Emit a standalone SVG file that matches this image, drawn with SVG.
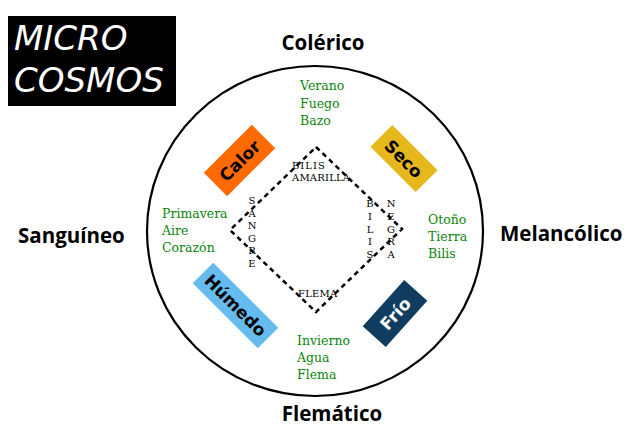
<svg xmlns="http://www.w3.org/2000/svg" width="640" height="442" viewBox="0 0 640 442">
<style>
.title{font-family:"DejaVu Sans",sans-serif;font-style:italic;font-size:34px;fill:#fff}
.hum{font-family:"Open Sans","DejaVu Sans",sans-serif;font-weight:bold;font-size:20.5px;fill:#000}
.grn{font-family:"DejaVu Serif",serif;font-size:12.5px;fill:#0d850d}
.q{font-family:"DejaVu Sans",sans-serif;font-weight:bold;font-size:17px}
.sm{font-family:"DejaVu Serif",serif;font-size:10px;fill:#000}
</style>
<rect width="640" height="442" fill="#fff"/>
<g id="title">
<rect x="8" y="16" width="168" height="90" fill="#000"/>
<text class="title" x="14" y="50">MICRO</text>
<text class="title" x="14" y="92">COSMOS</text>
</g>
<g id="circle">
<ellipse cx="315" cy="231" rx="168" ry="165" fill="none" stroke="#000" stroke-width="2.2"/>
</g>
<g id="connectors">
<polygon points="316,147 402,229 316,312 230,230" fill="none" stroke="#000" stroke-width="2.5" stroke-dasharray="5,4"/>
</g>
<g id="colerico"><text class="hum" x="323" y="50" text-anchor="middle">Colérico</text></g>
<g id="sanguineo"><text class="hum" x="18" y="243" font-size="21">Sanguíneo</text></g>
<g id="melancolico"><text class="hum" x="500" y="241" font-size="21">Melancólico</text></g>
<g id="flematico"><text class="hum" x="332" y="421" text-anchor="middle">Flemático</text></g>
<g id="verano"><text class="grn" x="300" y="90">Verano</text><text class="grn" x="300" y="107.5">Fuego</text><text class="grn" x="300" y="125">Bazo</text></g>
<g id="primavera"><text class="grn" x="162" y="218" font-size="13.3">Primavera</text><text class="grn" x="162" y="235" font-size="13.3">Aire</text><text class="grn" x="162" y="252" font-size="13.3">Corazón</text></g>
<g id="otono"><text class="grn" x="428" y="224">Otoño</text><text class="grn" x="428" y="241">Tierra</text><text class="grn" x="428" y="258">Bilis</text></g>
<g id="invierno"><text class="grn" x="297" y="345">Invierno</text><text class="grn" x="297" y="362">Agua</text><text class="grn" x="297" y="379">Flema</text></g>
<g id="calor" transform="translate(239.5,160.5) rotate(-45)">
<rect x="-34" y="-16.5" width="68" height="33" fill="#ff6a00"/>
<text class="q" x="0" y="6.5" text-anchor="middle" fill="#000">Calor</text>
</g>
<g id="seco" transform="translate(404,158.5) rotate(45)">
<rect x="-32" y="-15.5" width="64" height="31" fill="#e6b81c"/>
<text class="q" x="0" y="6.5" text-anchor="middle" fill="#000">Seco</text>
</g>
<g id="humedo" transform="translate(235.5,305.5) rotate(45)">
<rect x="-46" y="-14.5" width="92" height="29" fill="#66bbee"/>
<text class="q" x="0" y="6" text-anchor="middle" fill="#000">Húmedo</text>
</g>
<g id="frio" transform="translate(395,313.5) rotate(-48)">
<rect x="-31" y="-15.5" width="62" height="31" fill="#0f3c5f"/>
<text class="q" x="0" y="6.5" text-anchor="middle" fill="#fff">Frío</text>
</g>
<g id="bilis-amarilla">
<text class="sm" x="292" y="169" letter-spacing="1">BILIS</text>
<text class="sm" x="292" y="181" letter-spacing="0.2">AMARILLA</text>
</g>
<g id="sangre" class="sm" text-anchor="middle">
<text x="252" y="204">S</text><text x="252" y="216.5">A</text><text x="252" y="229">N</text><text x="252" y="241.5">G</text><text x="252" y="254">R</text><text x="252" y="266.5">E</text>
</g>
<g id="bilis-negra" class="sm" text-anchor="middle">
<text x="370" y="207">B</text><text x="370" y="220">I</text><text x="370" y="232.5">L</text><text x="370" y="245">I</text><text x="370" y="257.5">S</text>
<text x="391" y="207">N</text><text x="391" y="220">E</text><text x="391" y="232.5">G</text><text x="391" y="245">R</text><text x="391" y="257.5">A</text>
</g>
<g id="flema"><text class="sm" x="298" y="297" letter-spacing="0.2">FLEMA</text></g>
</svg>
